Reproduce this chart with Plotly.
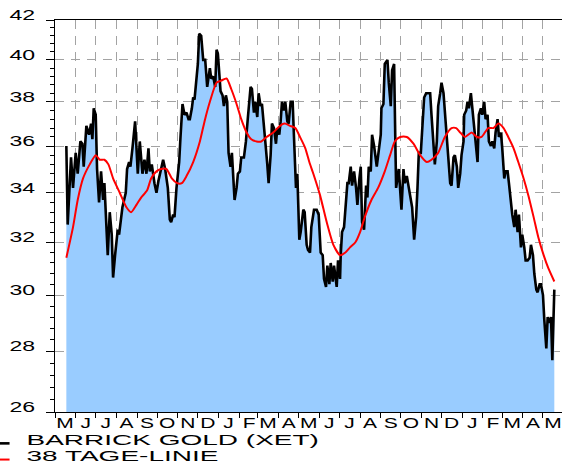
import math
import pandas as pd
import plotly.graph_objects as go

# ---------------- data ----------------
PRICE_DATES = [
    "2010-05-18", "2010-05-20", "2010-05-25", "2010-05-28",
    "2010-06-01", "2010-06-04", "2010-06-08", "2010-06-11", "2010-06-13", "2010-06-17", "2010-06-21", "2010-06-24", "2010-06-26", "2010-06-28",
    "2010-07-01", "2010-07-03", "2010-07-06", "2010-07-09", "2010-07-12", "2010-07-14", "2010-07-19", "2010-07-22", "2010-07-25", "2010-07-27", "2010-07-30",
    "2010-08-03", "2010-08-05", "2010-08-10", "2010-08-15", "2010-08-17", "2010-08-20", "2010-08-22", "2010-08-25", "2010-08-29",
    "2010-09-02", "2010-09-05", "2010-09-09", "2010-09-12", "2010-09-15", "2010-09-18", "2010-09-20", "2010-09-23", "2010-09-27", "2010-09-30",
    "2010-10-03", "2010-10-07", "2010-10-10", "2010-10-13", "2010-10-17", "2010-10-20", "2010-10-22", "2010-10-25", "2010-10-27", "2010-10-30",
    "2010-11-03", "2010-11-05", "2010-11-08", "2010-11-11", "2010-11-14", "2010-11-17", "2010-11-19", "2010-11-22", "2010-11-24", "2010-11-26", "2010-11-29",
    "2010-12-01", "2010-12-03", "2010-12-06", "2010-12-09", "2010-12-12", "2010-12-15", "2010-12-19", "2010-12-21", "2010-12-24", "2010-12-27", "2010-12-29", "2010-12-31",
    "2011-01-03", "2011-01-04", "2011-01-07", "2011-01-09", "2011-01-12", "2011-01-14", "2011-01-16", "2011-01-19", "2011-01-21", "2011-01-23", "2011-01-25", "2011-01-28", "2011-01-30",
    "2011-02-02", "2011-02-04", "2011-02-08", "2011-02-11", "2011-02-14", "2011-02-18", "2011-02-20", "2011-02-23", "2011-02-25", "2011-02-28",
    "2011-03-02", "2011-03-05", "2011-03-07", "2011-03-10", "2011-03-12", "2011-03-15", "2011-03-17", "2011-03-20", "2011-03-22", "2011-03-25", "2011-03-28", "2011-03-30",
    "2011-04-02", "2011-04-04", "2011-04-06", "2011-04-09", "2011-04-11", "2011-04-14", "2011-04-16", "2011-04-19", "2011-04-22", "2011-04-24", "2011-04-27", "2011-04-29",
    "2011-05-02", "2011-05-04", "2011-05-08", "2011-05-10", "2011-05-13", "2011-05-15", "2011-05-18", "2011-05-20", "2011-05-24", "2011-05-28", "2011-05-31",
    "2011-06-03", "2011-06-06", "2011-06-08", "2011-06-11", "2011-06-13", "2011-06-16", "2011-06-18", "2011-06-21", "2011-06-23", "2011-06-27", "2011-06-29",
    "2011-07-02", "2011-07-03", "2011-07-05", "2011-07-08", "2011-07-11", "2011-07-13", "2011-07-15", "2011-07-18", "2011-07-20", "2011-07-23", "2011-07-26", "2011-07-28", "2011-07-31",
    "2011-08-02", "2011-08-04", "2011-08-07", "2011-08-10", "2011-08-12", "2011-08-14", "2011-08-17", "2011-08-19", "2011-08-22", "2011-08-26", "2011-08-29",
    "2011-09-01", "2011-09-02", "2011-09-05", "2011-09-07", "2011-09-11", "2011-09-13", "2011-09-16", "2011-09-18", "2011-09-21", "2011-09-23", "2011-09-24", "2011-09-28", "2011-09-30",
    "2011-10-02", "2011-10-05", "2011-10-07", "2011-10-10", "2011-10-13", "2011-10-16", "2011-10-18", "2011-10-21", "2011-10-24", "2011-10-26", "2011-10-28", "2011-10-31",
    "2011-11-03", "2011-11-05", "2011-11-08", "2011-11-10", "2011-11-14", "2011-11-16", "2011-11-19", "2011-11-21", "2011-11-24", "2011-11-26", "2011-11-29",
    "2011-12-01", "2011-12-04", "2011-12-06", "2011-12-09", "2011-12-11", "2011-12-14", "2011-12-16", "2011-12-19", "2011-12-21", "2011-12-24", "2011-12-26", "2011-12-29", "2011-12-31",
    "2012-01-03", "2012-01-04", "2012-01-07", "2012-01-09", "2012-01-11", "2012-01-14", "2012-01-16", "2012-01-19", "2012-01-21", "2012-01-24", "2012-01-26", "2012-01-29", "2012-01-31",
    "2012-02-03", "2012-02-05", "2012-02-08", "2012-02-10", "2012-02-13", "2012-02-15", "2012-02-18", "2012-02-20", "2012-02-23", "2012-02-25", "2012-02-28",
    "2012-03-01", "2012-03-04", "2012-03-06", "2012-03-09", "2012-03-11", "2012-03-14", "2012-03-16", "2012-03-19", "2012-03-21", "2012-03-24", "2012-03-26", "2012-03-29", "2012-03-31",
    "2012-04-03", "2012-04-05", "2012-04-08", "2012-04-11", "2012-04-13", "2012-04-16", "2012-04-18", "2012-04-21", "2012-04-23", "2012-04-26", "2012-04-28",
    "2012-05-01", "2012-05-03", "2012-05-06", "2012-05-08", "2012-05-11", "2012-05-13", "2012-05-15", "2012-05-18",
]
PRICE_VALUES = [
    36.0, 32.7, 35.5, 34.2,
    35.7, 34.8, 36.2, 36.1, 35.1, 36.9, 36.5, 37.0, 36.3, 37.7,
    37.4, 35.0, 33.6, 34.9, 33.7, 34.4, 31.5, 33.2, 32.3, 30.65, 31.5,
    32.5, 32.3, 33.4, 34.0, 35.0, 35.3, 35.1, 35.9, 37.1,
    34.8, 36.2, 34.8, 35.4, 34.8, 35.9, 34.9, 35.2, 34.4, 34.0,
    34.5, 35.1, 35.4, 35.0, 34.2, 32.9, 32.8, 33.1, 33.0, 34.2,
    35.3, 36.4, 37.9, 37.4, 37.5, 37.2, 37.2, 37.7, 38.2, 38.1, 39.4,
    39.8, 41.3, 41.2, 40.0, 40.0, 38.7, 39.6, 39.1, 39.2, 38.7, 40.5, 40.3,
    39.0, 38.5, 38.3, 37.8, 38.3, 38.0, 35.7, 35.1, 35.7, 34.8, 33.7, 34.2, 34.8,
    34.9, 35.5, 35.5, 36.2, 37.3, 38.7, 38.6, 37.5, 38.0, 37.3,
    38.4, 37.8, 37.9, 37.0, 36.2, 35.2, 34.4, 35.6, 37.0, 36.8, 36.1, 36.8,
    36.5, 37.1, 38.0, 37.6, 38.0, 37.1, 37.0, 38.0, 38.0, 36.4, 34.2, 34.8,
    32.1, 32.4, 33.3, 33.2, 31.9, 31.7, 31.6, 32.6, 33.3, 33.3, 33.1,
    31.6, 31.5, 30.6, 30.3, 31.1, 30.4, 31.2, 30.5, 31.1, 30.3, 31.3,
    30.6, 31.5, 32.4, 32.6, 33.7, 34.4, 34.4, 35.1, 34.3, 34.9, 34.2, 33.5, 34.6,
    35.1, 32.8, 32.5, 34.3, 33.8, 35.1, 34.9, 36.5, 36.0, 35.1, 35.7,
    36.5, 37.7, 37.9, 39.8, 40.0, 38.9, 37.8, 39.5, 39.8, 35.9, 34.2, 35.0, 34.0,
    33.3, 35.0, 34.4, 34.7, 34.2, 33.8, 33.4, 32.1, 33.0, 34.2, 35.7, 35.7,
    37.5, 38.2, 38.4, 38.4, 38.4, 37.4, 35.9, 35.2, 36.2, 37.8, 38.4,
    38.9, 38.4, 37.5, 36.6, 35.6, 34.4, 34.3, 35.5, 35.6, 35.1, 34.2, 34.8, 35.6,
    36.2, 37.4, 37.6, 38.0, 37.7, 38.4, 37.7, 36.8, 36.2, 35.3, 37.4, 37.7, 37.4,
    38.0, 37.2, 37.4, 36.2, 36.0, 36.2, 35.9, 36.6, 37.2, 36.4, 36.6,
    35.9, 34.6, 34.9, 34.9, 34.4, 33.4, 33.1, 32.6, 33.3, 32.4, 33.1, 31.8, 32.3,
    31.8, 31.3, 31.3, 31.4, 31.9, 31.5, 30.8, 30.2, 30.1, 30.4, 30.4,
    30.0, 29.1, 28.1, 29.2, 29.0, 29.2, 27.7, 30.2,
]

MA_DATES = [
    "2010-05-18", "2010-05-28", "2010-06-04", "2010-06-12", "2010-06-22", "2010-07-01", "2010-07-07", "2010-07-14",
    "2010-07-20", "2010-07-27", "2010-08-06", "2010-08-16", "2010-08-23", "2010-08-31", "2010-09-07", "2010-09-16",
    "2010-09-22", "2010-09-30", "2010-10-07", "2010-10-15", "2010-10-23", "2010-10-31", "2010-11-07", "2010-11-14",
    "2010-11-24", "2010-12-04", "2010-12-11", "2010-12-19", "2010-12-29", "2011-01-05", "2011-01-13", "2011-01-20",
    "2011-01-28", "2011-02-04", "2011-02-12", "2011-02-19", "2011-02-27", "2011-03-06", "2011-03-14", "2011-03-24",
    "2011-04-03", "2011-04-10", "2011-04-18", "2011-04-26", "2011-05-03", "2011-05-11", "2011-05-17", "2011-05-23",
    "2011-06-02", "2011-06-12", "2011-06-22", "2011-07-02", "2011-07-10", "2011-07-17", "2011-07-25", "2011-08-01",
    "2011-08-08", "2011-08-18", "2011-08-28", "2011-09-07", "2011-09-15", "2011-09-22", "2011-09-30", "2011-10-10",
    "2011-10-20", "2011-10-30", "2011-11-09", "2011-11-16", "2011-11-26", "2011-12-06", "2011-12-16", "2011-12-23",
    "2011-12-29", "2012-01-05", "2012-01-15", "2012-01-23", "2012-01-30", "2012-02-09", "2012-02-17", "2012-02-24",
    "2012-03-03", "2012-03-10", "2012-03-18", "2012-03-25", "2012-04-02", "2012-04-09", "2012-04-17", "2012-04-24",
    "2012-05-02", "2012-05-09", "2012-05-18",
]
MA_VALUES = [
    31.4, 32.6, 33.7, 34.6, 35.2, 35.6, 35.4, 35.4,
    35.2, 34.6, 34.0, 33.4, 33.2, 33.5, 33.8, 34.1,
    34.6, 34.9, 35.0, 35.0, 34.6, 34.4, 34.4, 34.7,
    35.3, 36.2, 37.1, 38.0, 38.9, 39.0, 39.1, 38.6,
    37.9, 37.2, 36.6, 36.3, 36.2, 36.2, 36.4, 36.6,
    36.9, 37.0, 36.9, 36.8, 36.4, 35.9, 35.3, 34.8,
    33.9, 32.8, 31.9, 31.5, 31.6, 31.8, 32.0, 32.4,
    33.0, 33.7, 34.2, 34.9, 35.6, 36.2, 36.4, 36.4,
    36.1, 35.6, 35.3, 35.4, 35.7, 36.4, 36.8, 36.8,
    36.6, 36.4, 36.6, 36.4, 36.4, 36.8, 36.8, 37.0,
    36.8, 36.4, 35.9, 35.3, 34.6, 33.9, 33.0, 32.2,
    31.5, 31.0, 30.5,
]

PRICE_NAME = "BARRICK GOLD (XET)"
MA_NAME = "38 TAGE-LINIE"

Y_TICKS = [26, 28, 30, 32, 34, 36, 38, 40, 42]
Y_MINOR = [round(26 + 0.4 * i, 1) for i in range(41) if (i % 5) != 0]
MONTH_LETTERS = ["M", "J", "J", "A", "S", "O", "N", "D", "J", "F", "M", "A",
                 "M", "J", "J", "A", "S", "O", "N", "D", "J", "F", "M", "A", "M"]
MONTH_STARTS = pd.date_range("2010-05-01", "2012-05-01", freq="MS")
LABEL_POS = MONTH_STARTS + pd.Timedelta(days=15)

assert len(PRICE_DATES) == len(PRICE_VALUES)
assert len(MA_DATES) == len(MA_VALUES)

GRID = "#a3a3a3"
DASH = "9px,7px"
FONT = "Liberation Sans, Arial, Helvetica, sans-serif"

fig = go.Figure()
fig.add_trace(go.Scatter(x=PRICE_DATES, y=PRICE_VALUES, mode="lines", line=dict(width=0),
                         fill="tozeroy", fillcolor="#99ccff", showlegend=False, hoverinfo="skip"))
fig.add_trace(go.Scatter(x=PRICE_DATES, y=PRICE_VALUES, mode="lines", name=PRICE_NAME,
                         line=dict(color="black", width=2.6)))
fig.add_trace(go.Scatter(x=MA_DATES, y=MA_VALUES, mode="lines", name=MA_NAME,
                         line=dict(color="#ff0000", width=2, shape="spline", smoothing=0.6)))

fig.update_layout(
    width=562, height=465,
    margin=dict(l=55, r=0, t=19.5, b=53.3, pad=0, autoexpand=False),
    paper_bgcolor="white", plot_bgcolor="white",
    font=dict(family=FONT, size=14, color="black"),
    showlegend=True,
    legend=dict(x=-0.135, xanchor="left", y=-0.030, yanchor="top",
                bgcolor="rgba(0,0,0,0)", font=dict(size=14), tracegroupgap=0),
    xaxis=dict(
        type="date", range=["2010-05-01", "2012-05-29 12:00"],
        showline=True, linecolor="black", linewidth=1, mirror=True,
        tickmode="array", tickvals=LABEL_POS, ticktext=MONTH_LETTERS,
        ticks="", showgrid=False, zeroline=False, tickfont=dict(size=14),
        automargin=False,
        minor=dict(tickmode="array", tickvals=MONTH_STARTS, ticks="outside", ticklen=5,
                   tickcolor="black", tickwidth=1, showgrid=True, gridcolor=GRID,
                   griddash=DASH, gridwidth=1),
    ),
    yaxis=dict(
        type="log", range=[math.log10(26), math.log10(42)],
        tickmode="array", tickvals=Y_TICKS, ticktext=[str(v) for v in Y_TICKS],
        ticks="outside", ticklen=8, tickcolor="black", tickwidth=1,
        showline=True, linecolor="black", linewidth=1, mirror=False,
        showgrid=True, gridcolor=GRID, griddash=DASH, gridwidth=1, zeroline=False,
        tickfont=dict(size=14), automargin=False, ticklabelstandoff=8,
        minor=dict(tickmode="array", tickvals=Y_MINOR, ticks="outside", ticklen=4,
                   tickcolor="black", tickwidth=1, showgrid=False),
    ),
)

POST = """
(function(){
  document.body.style.margin = '0';
  document.body.style.overflow = 'hidden';
  var gd = document.getElementById('{plot_id}');
  function stretch(sel, s, dy){
    gd.querySelectorAll(sel).forEach(function(t){
      var x = parseFloat(t.getAttribute('x')) || 0;
      var tr = t.getAttribute('transform') || '';
      t.setAttribute('transform', tr + ' translate(' + (x*(1-s)) + ',' + dy + ') scale(' + s + ',1)');
    });
  }
  gd.querySelectorAll('.legend .scrollbox').forEach(function(e){ e.removeAttribute('clip-path'); });
  gd.querySelectorAll('.legend .traces').forEach(function(g, i){
    var tr = g.getAttribute('transform') || '';
    g.setAttribute('transform', tr + ' translate(0,' + (-5 * i) + ')');
  });
  gd.querySelectorAll('.legend .legendlines').forEach(function(g){
    var tr = g.getAttribute('transform') || '';
    g.setAttribute('transform', tr + ' translate(-12,4)');
  });
  stretch('.ytick text', 1.65, -5);
  stretch('.xtick text', 1.5, -2);
  stretch('.legendtext', 2.0, 0);
})();
"""

fig.write_html("out.html", post_script=POST, config={"displayModeBar": False})
